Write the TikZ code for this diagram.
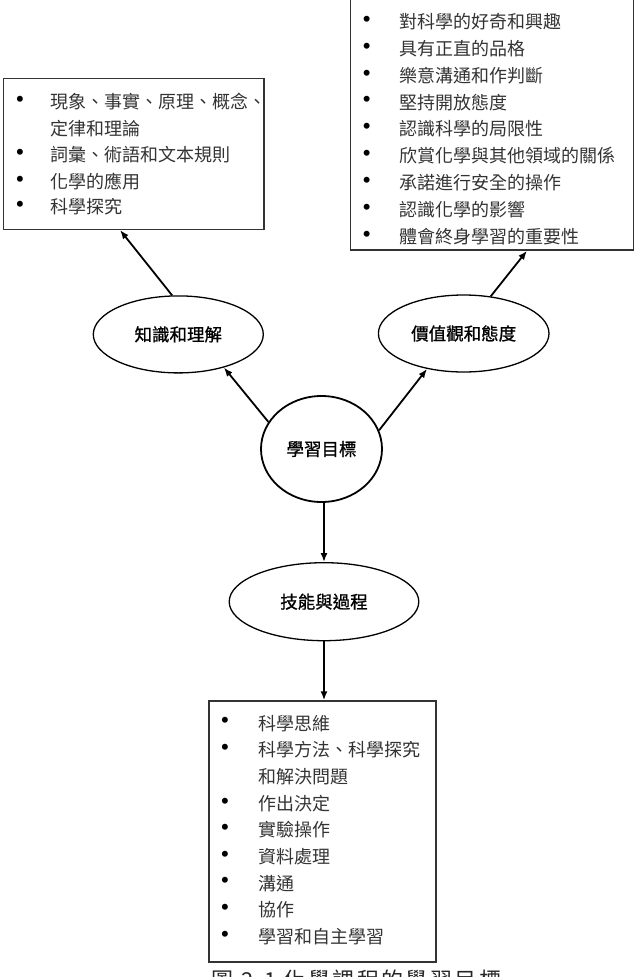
\documentclass[tikz,border=0pt]{standalone}
\usepackage{fontspec}
\setmainfont{Liberation Serif}
\newfontfamily\cjk{Noto Sans CJK TC}
\newfontfamily\cjkb[FakeBold=1]{Noto Sans CJK TC}
\newfontfamily\cjkcap[LetterSpace=11]{Noto Sans CJK TC}
\usetikzlibrary{shapes.geometric,arrows.meta,calc}
\begin{document}
\begin{tikzpicture}[x=1pt,y=-1pt,
  box/.style={draw=black!80, line width=1.5pt, rectangle, inner sep=0pt},
  ell/.style={draw, ellipse, line width=1.3pt, inner sep=0pt, font=\cjkb\fontsize{17.5}{20}\selectfont},
  arr/.style={-{Latex[length=9pt,width=7pt]}, line width=1.8pt},
  item/.style={anchor=west, inner sep=0pt, text=black!80, font=\cjk\fontsize{18}{20}\selectfont},
  dot/.style={inner sep=0pt, text=black, font=\fontsize{25}{26}\selectfont}
]
\useasboundingbox (0,0) rectangle (643,977);

% boxes
\node[box, minimum width=260.7pt, minimum height=151pt] (lbox) at (133.7,153.8) {};
\node[box, minimum width=282.6pt, minimum height=255pt] (rbox) at (492,122.5) {};
\node[box, minimum width=227pt, minimum height=260.7pt] (bbox) at (322.5,831.4) {};

% ellipses
\node[ell, minimum width=170pt, minimum height=77pt] (know) at (178.3,334.4) {知識和理解};
\node[ell, minimum width=170.6pt, minimum height=77pt] (val) at (463.7,333.5) {價值觀和態度};
\node[ell, line width=1.8pt, minimum width=121pt, minimum height=106pt] (goal) at (321.5,449) {學習目標};
\node[ell, minimum width=189.6pt, minimum height=78pt] (skill) at (324,601.7) {技能與過程};

% left box items
\node[dot] (lb1) at (20,101.7) {•};
\node[item] (lt1) at (50.7,101.7) {現象、事實、原理、概念、};
\node[item] (lt2) at (50.7,128.3) {定律和理論};
\node[dot] (lb3) at (20,155) {•};
\node[item] (lt3) at (50.7,155) {詞彙、術語和文本規則};
\node[dot] (lb4) at (20,181.7) {•};
\node[item] (lt4) at (50.7,181.7) {化學的應用};
\node[dot] (lb5) at (20,207) {•};
\node[item] (lt5) at (50.7,207) {科學探究};

% right box items
\foreach \t [count=\i] in {對科學的好奇和興趣,具有正直的品格,樂意溝通和作判斷,堅持開放態度,認識科學的局限性,欣賞化學與其他領域的關係,承諾進行安全的操作,認識化學的影響,體會終身學習的重要性}{
  \node[dot] (rb\i) at (366.7,{21.7+26.85*(\i-1)}) {•};
  \node[item] (rt\i) at (399.3,{21.7+26.85*(\i-1)}) {\t};
}

% bottom box items
\node[dot] (bb1) at (225,723.3) {•};
\node[item] (bt1) at (258.3,723.3) {科學思維};
\node[dot] (bb2) at (225,750) {•};
\node[item] (bt2) at (258.3,750) {科學方法、科學探究};
\node[item] (bt3) at (258.3,777) {和解決問題};
\node[dot] (bb4) at (225,803.5) {•};
\node[item] (bt4) at (258.3,803.5) {作出決定};
\node[dot] (bb5) at (225,830) {•};
\node[item] (bt5) at (258.3,830) {實驗操作};
\node[dot] (bb6) at (225,856.7) {•};
\node[item] (bt6) at (258.3,856.7) {資料處理};
\node[dot] (bb7) at (225,883.3) {•};
\node[item] (bt7) at (258.3,883.3) {溝通};
\node[dot] (bb8) at (225,910) {•};
\node[item] (bt8) at (258.3,910) {協作};
\node[dot] (bb9) at (225,936.7) {•};
\node[item] (bt9) at (258.3,936.7) {學習和自主學習};

% caption (partly cut off by the page edge, as in the reference)
\node[anchor=north west, inner sep=0pt, text=black!85, font=\cjkcap\fontsize{22}{24}\selectfont] (cap) at (211.5,969.5) {圖 2.1 化學課程的學習目標};

% connectors
\draw[arr] (goal.153.6) -- (know.-36);
\draw[arr] (goal.18.1) -- (val.-136.8);
\draw[arr] (know.99.8) -- ($(lbox.south west)!0.448!(lbox.south east)$);
\draw[arr] (val.54.3) -- ($(rbox.south west)!0.623!(rbox.south east)$);
\draw[arr] (goal.south -| skill.north) -- (skill.north);
\draw[arr] (skill.south) -- (skill.south |- bbox.north);
\end{tikzpicture}
\end{document}
